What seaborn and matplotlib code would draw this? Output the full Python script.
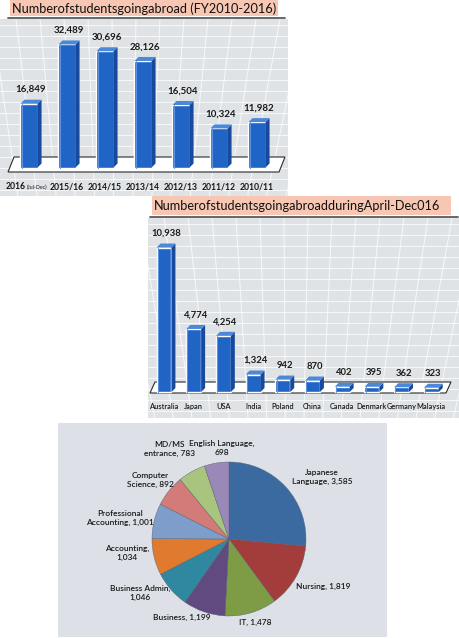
import matplotlib
matplotlib.use("Agg")
import numpy as np
import matplotlib.pyplot as plt
from matplotlib.patches import Polygon, Rectangle
import seaborn as sns

# ---- data ----
years = ["2016", "2015/16", "2014/15", "2013/14", "2012/13", "2011/12", "2010/11"]
year_students = [16849, 32489, 30696, 28126, 16504, 10324, 11982]

countries = ["Australia", "Japan", "USA", "India", "Poland", "China",
             "Canada", "Denmark", "Germany", "Malaysia"]
country_students = [10938, 4774, 4254, 1324, 942, 870, 402, 395, 362, 323]

subjects = ["Japanese Language", "Nursing", "IT", "Business", "Business Admin",
            "Accounting", "Professional Accounting", "Computer Science",
            "MD/MS entrance", "English Language"]
subject_students = [3585, 1819, 1478, 1199, 1046, 1034, 1001, 892, 783, 698]

title_years = "Numberofstudentsgoingabroad (FY2010-2016)"
title_countries = "NumberofstudentsgoingabroadduringApril-Dec016"

# ---- styles ----
sns.set_theme(style="white")
plt.rcParams["font.family"] = ["Lato", "DejaVu Sans"]
FONT = ["Lato", "DejaVu Sans"]

PANEL = "#e0e3e6"
PEACH = "#f7c7b3"
FRONT = "#2064c6"
SIDE = "#174a9c"
TOP = "#4c88d8"
pie_colors = ["#3b6aa0", "#a23d3b", "#7e9c45", "#614a80", "#2f889f",
              "#e07a2e", "#7f9dcb", "#d27b78", "#a8c47e", "#9a89b8"]
# how each pie label wraps: after first word, after the comma, or not at all
label_wrap = ["word", None, None, None, "comma", "comma", "word", "word", "word", "comma"]
# label placement: radius (in pie radii) and angular nudge (deg) from the wedge middle
label_r = [1.45, 1.37, 1.13, 1.19, 1.35, 1.34, 1.44, 1.28, 1.40, 1.19]
label_dang = [-8.5, 3.0, 0.8, -12.0, -10.0, -5.5, 2.5, 1.7, 4.5, -5.0]

W, H = 460, 638
fig = plt.figure(figsize=(W / 100, H / 100), dpi=100)


def px_rect(x0, y0, x1, y1):
    return [x0 / W, 1 - y1 / H, (x1 - x0) / W, (y1 - y0) / H]


bg = fig.add_axes([0, 0, 1, 1])
bg.set_xlim(0, W)
bg.set_ylim(H, 0)
bg.axis("off")


def panel(x0, y0, x1, y1, fan_x):
    rect = Rectangle((x0, y0), x1 - x0, y1 - y0, fc=PANEL, ec="none", zorder=0)
    bg.add_patch(rect)
    for y in np.arange(y0 + 6, y1, 11):
        ln, = bg.plot([x0, x1], [y, y], color="white", lw=0.7, alpha=0.75, zorder=1)
        ln.set_clip_path(rect)
    vy = y1 + 700
    for x in np.arange(x0 - 200, x1 + 260, 24):
        ln, = bg.plot([x, fan_x], [y0, vy], color="white", lw=0.7, alpha=0.75, zorder=1)
        ln.set_clip_path(rect)


def title_box(x0, y0, x1, y1, text):
    bg.add_patch(Rectangle((x0, y0), x1 - x0, y1 - y0, fc=PEACH, ec="none", zorder=2))
    bg.text(x0 + 2, (y0 + y1) / 2 + 0.5, text, ha="left", va="center",
            fontsize=9.2, family=FONT, color="#111111", zorder=3)
    bg.plot([x0 - 2, x1 + 7], [y1 + 2, y1 + 2], color="#5a5a5a", lw=1.3, zorder=3)


def floor(x0, x1, ytop, ybot, slant):
    bg.add_patch(Polygon([(x0 + slant, ytop), (x1 + slant, ytop), (x1, ybot), (x0, ybot)],
                         closed=True, fc="white", ec="#2a2a2a", lw=0.8, zorder=2))


def bar_panel(rect, cats, vals, first_px, step_px, base_px, unit, width,
              dpx, val_size, cat_baseline_px):
    x0, y0, x1, y1 = rect
    ax = fig.add_axes(px_rect(*rect))
    ax.patch.set_alpha(0)
    sns.barplot(x=cats, y=vals, color=FRONT, saturation=1, width=width, ax=ax, zorder=3)
    ax.set_xlim((x0 - first_px) / step_px, (x1 - first_px) / step_px)
    ax.set_ylim(-(y1 - base_px) * unit, (base_px - y0) * unit)
    ddx = dpx / step_px
    ddy = dpx * unit
    for p, v in zip(ax.patches, vals):
        a, w, h = p.get_x(), p.get_width(), p.get_height()
        b = a + w
        ax.add_patch(Polygon([(b, 0), (b + ddx, ddy), (b + ddx, h + ddy), (b, h)],
                             closed=True, fc=SIDE, ec="none", zorder=3))
        ax.add_patch(Polygon([(a, h), (b, h), (b + ddx, h + ddy), (a + ddx, h + ddy)],
                             closed=True, fc=TOP, ec="none", zorder=3))
        ax.plot([a + w * 0.08, a + w * 0.08], [0, h], color="#5b92e0", lw=0.8, zorder=4)
        ax.annotate(f"{v:,}", xy=(a + (w + ddx) / 2, h + ddy), xytext=(0, 4),
                    textcoords="offset points", ha="center", va="bottom",
                    fontsize=val_size, family=FONT, weight="bold", color="#1a1a1a")
    ax.set_xticks([])
    ax.set_yticks([])
    ax.set_xlabel("")
    ax.set_ylabel("")
    for s in ax.spines.values():
        s.set_visible(False)
    off = -(cat_baseline_px - y1) * 0.72
    return ax, off


# top panel: yearly totals
panel(0, 19, 288, 196, 120)
title_box(10, 0, 278, 16, title_years)
floor(8, 279, 157, 172, 6)
ax1, off1 = bar_panel((0, 19, 288, 177), years, year_students, 29, 38, 167.5, 264,
                      0.45, 4, 7, 189)
for i, c in enumerate(years):
    if i == 0:
        ax1.annotate(c, xy=(i, 0), xycoords=("data", "axes fraction"), xytext=(-2.6, off1),
                     textcoords="offset points", ha="right", va="baseline",
                     fontsize=6.2, family=FONT, weight="bold", color="#1a1a1a",
                     annotation_clip=False)
        ax1.annotate("(Jul-Dec)", xy=(i, 0), xycoords=("data", "axes fraction"),
                     xytext=(-1.6, off1), textcoords="offset points", ha="left",
                     va="baseline", fontsize=3.8, family=FONT, color="#1a1a1a",
                     annotation_clip=False)
    else:
        ax1.annotate(c, xy=(i, 0), xycoords=("data", "axes fraction"), xytext=(0, off1),
                     textcoords="offset points", ha="center", va="baseline",
                     fontsize=6.2, family=FONT, weight="bold", color="#1a1a1a",
                     annotation_clip=False)

# middle panel: by destination country
panel(148, 218, 460, 418, 290)
title_box(152, 196, 451, 215, title_countries)
floor(150, 446, 382, 393, 5)
ax2, off2 = bar_panel((148, 218, 460, 398), countries, country_students, 164, 29.7, 392,
                      75.7, 0.5, 4, 6.8, 409)
for i, c in enumerate(countries):
    ax2.annotate(c, xy=(i, 0), xycoords=("data", "axes fraction"), xytext=(0, off2),
                 textcoords="offset points", ha="center", va="baseline",
                 fontsize=5.3, family=FONT, weight="semibold", color="#1a1a1a",
                 annotation_clip=False)

# bottom panel: by subject
bg.add_patch(Rectangle((58, 423), 329, 214, fc="#dde1e7", ec="none", zorder=0))
ax3 = fig.add_axes(px_rect(229 - 77, 539 - 77, 229 + 77, 539 + 77))
wedges, _ = ax3.pie(subject_students, colors=pie_colors, startangle=90, counterclock=False,
                    radius=1, wedgeprops=dict(edgecolor="#55606e", linewidth=0.3))
ax3.set_xlim(-1, 1)
ax3.set_ylim(-1, 1)
ax3.set_aspect("equal")
ax3.axis("off")
for wdg, name, v, mode, r, da in zip(wedges, subjects, subject_students, label_wrap,
                                     label_r, label_dang):
    if mode == "word":
        first, rest = name.split(" ", 1)
        txt = f"{first}\n{rest}, {v:,}"
    elif mode == "comma":
        txt = f"{name},\n{v:,}"
    else:
        txt = f"{name}, {v:,}"
    ang = np.deg2rad((wdg.theta1 + wdg.theta2) / 2 + da)
    ax3.annotate(txt, xy=(r * np.cos(ang), r * np.sin(ang)), ha="center", va="center",
                 fontsize=6.0, family=FONT, weight="semibold", color="#1a1a1a",
                 annotation_clip=False, linespacing=1.35)

fig.savefig("out.png", dpi=100)
